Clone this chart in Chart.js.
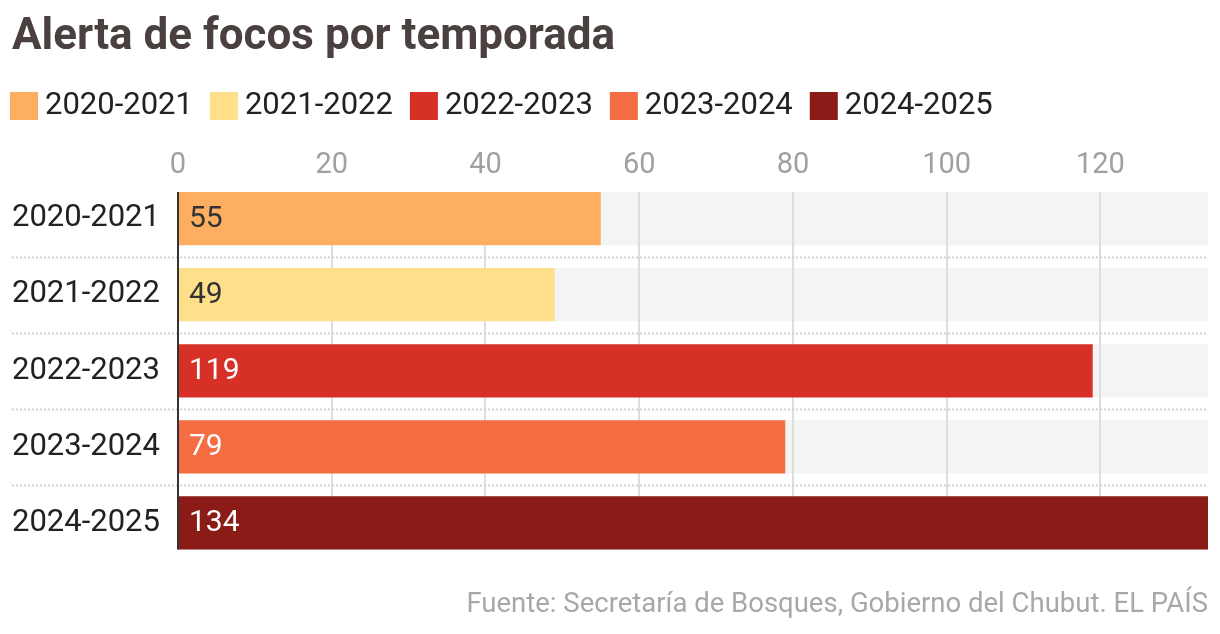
<!DOCTYPE html>
<html>
<head>
<meta charset="utf-8">
<script src="https://cdn.jsdelivr.net/npm/chart.js@4.4.1/dist/chart.umd.min.js"></script>
<style>
  body { margin: 0; background: #fff; }
  #wrap { width: 1220px; height: 634px; }
</style>
</head>
<body>
<div id="wrap"><canvas id="chart"></canvas></div>
<script>
// temporadas y focos
var categories = ['2020-2021', '2021-2022', '2022-2023', '2023-2024', '2024-2025'];
var values = [55, 49, 119, 79, 134];
var barColors = ['#fdae61', '#fee08b', '#d73027', '#f46d43', '#8b1b16'];
var valueColors = ['#333333', '#333333', '#ffffff', '#ffffff', '#ffffff'];
var xTicks = [0, 20, 40, 60, 80, 100, 120];

var FONT = 'Roboto, "Liberation Sans", sans-serif';

var decor = {
    id: 'decor',
    beforeDatasetsDraw(chart) {
        var ctx = chart.ctx;
        var area = chart.chartArea;
        var x = chart.scales.x;
        var bars = chart.getDatasetMeta(0).data;
        ctx.save();
        // gray tracks
        ctx.fillStyle = '#f4f4f4';
        bars.forEach(function (b) {
            ctx.fillRect(area.left, b.y - b.height / 2, area.right - area.left, b.height);
        });
        var top = bars[0].y - bars[0].height / 2;
        var last = bars[bars.length - 1];
        var bottom = last.y + last.height / 2;
        // vertical grid
        ctx.strokeStyle = '#dedede';
        ctx.lineWidth = 2;
        xTicks.forEach(function (v) {
            if (v === 0) return;
            var px = Math.round(x.getPixelForValue(v));
            ctx.beginPath();
            ctx.moveTo(px, top);
            ctx.lineTo(px, bottom);
            ctx.stroke();
        });
        // dotted row separators
        ctx.strokeStyle = '#d2d2d2';
        ctx.setLineDash([2, 2]);
        for (var i = 0; i < bars.length - 1; i++) {
            var y = Math.round((bars[i].y + bars[i + 1].y) / 2) + 0.5;
            ctx.beginPath();
            ctx.moveTo(12, y);
            ctx.lineTo(area.right, y);
            ctx.stroke();
        }
        ctx.restore();
    },
    afterDatasetsDraw(chart) {
        var ctx = chart.ctx;
        var bars = chart.getDatasetMeta(0).data;
        var x0 = chart.scales.x.getPixelForValue(0);
        var top = bars[0].y - bars[0].height / 2;
        var last = bars[bars.length - 1];
        var bottom = last.y + last.height / 2;
        ctx.save();
        ctx.strokeStyle = '#333333';
        ctx.lineWidth = 2;
        ctx.beginPath();
        ctx.moveTo(x0, top);
        ctx.lineTo(x0, bottom);
        ctx.stroke();
        // value labels
        ctx.font = '30px ' + FONT;
        ctx.textBaseline = 'middle';
        ctx.textAlign = 'left';
        bars.forEach(function (b, i) {
            ctx.fillStyle = valueColors[i];
            ctx.fillText(String(values[i]), x0 + 11, b.y + 1);
        });
        ctx.restore();
    },
    afterDraw(chart) {
        // legend
        var ctx = chart.ctx;
        ctx.save();
        ctx.font = '31px ' + FONT;
        ctx.textBaseline = 'middle';
        ctx.textAlign = 'left';
        var lx = 10;
        categories.forEach(function (c, i) {
            ctx.fillStyle = barColors[i];
            ctx.fillRect(lx, 92, 28, 28);
            ctx.fillStyle = '#222222';
            ctx.fillText(c, lx + 35, 106);
            lx += 35 + ctx.measureText(c).width + 17;
        });
        ctx.restore();
    }
};

var myChart = new Chart(document.getElementById('chart'), {
    type: 'bar',
    data: {
        labels: categories,
        datasets: [{
            data: values,
            backgroundColor: barColors,
            borderWidth: 0,
            categoryPercentage: 1,
            barPercentage: 0.7
        }]
    },
    options: {
        indexAxis: 'y',
        responsive: true,
        maintainAspectRatio: false,
        animation: false,
        layout: { padding: { left: 12, right: 12, top: 0, bottom: 0 } },
        plugins: {
            legend: { display: false },
            tooltip: { enabled: false },
            title: {
                display: true,
                text: 'Alerta de focos por temporada',
                align: 'start',
                color: '#4a4040',
                font: { family: FONT, size: 44, weight: 'bold' },
                padding: { top: 12, bottom: 85.3 }
            },
            subtitle: {
                display: true,
                position: 'bottom',
                align: 'end',
                text: 'Fuente: Secretaría de Bosques, Gobierno del Chubut. EL PAÍS',
                color: '#a8a8a8',
                font: { family: FONT, size: 27.5 },
                padding: { top: 28, bottom: 12 }
            }
        },
        scales: {
            x: {
                position: 'top',
                min: 0,
                max: 134,
                afterBuildTicks: function (scale) {
                    scale.ticks = xTicks.map(function (v) { return { value: v }; });
                },
                grid: { display: false, drawTicks: false, tickLength: 0 },
                border: { display: false },
                ticks: {
                    color: '#a0a0a0',
                    font: { family: FONT, size: 29, lineHeight: 1.05 },
                    padding: 0,
                    maxRotation: 0
                }
            },
            y: {
                afterFit: function (scale) { scale.width = 166; },
                grid: { display: false },
                border: { display: false },
                ticks: {
                    crossAlign: 'far',
                    color: '#222222',
                    font: { family: FONT, size: 31 },
                    padding: 0
                }
            }
        }
    },
    plugins: [decor]
});
</script>
</body>
</html>
